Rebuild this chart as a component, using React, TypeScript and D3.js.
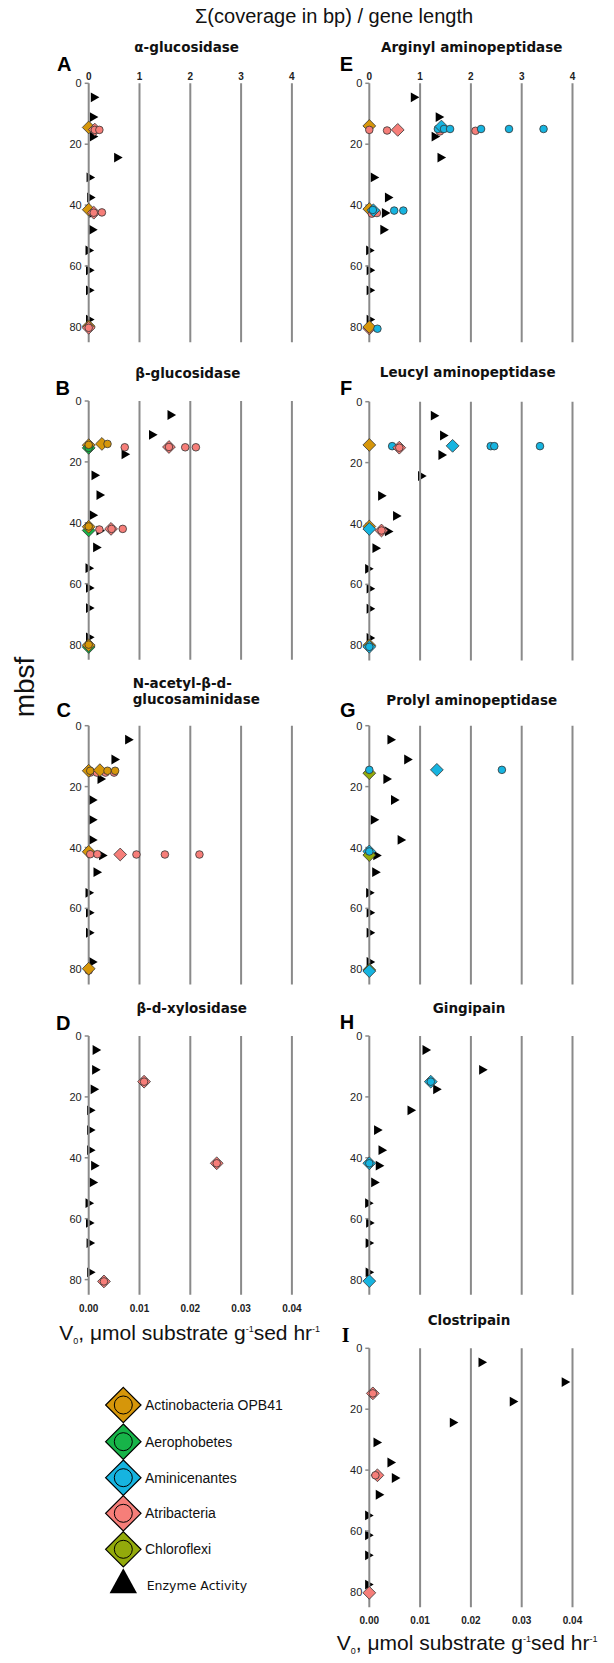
import React from 'react';
import * as d3 from 'd3';

// ---------- DATA ----------
const TAXA = ['Actinobacteria OPB41', 'Aerophobetes', 'Aminicenantes', 'Atribacteria', 'Chloroflexi'];
const TAXA_COLORS = ['#d6960a', '#17b449', '#16b4e0', '#f67e79', '#93aa0b'];
const COV_TICKS = [0, 1, 2, 3, 4];
const ACT_TICKS = [0, 0.01, 0.02, 0.03, 0.04];
const DEPTH_TICKS = [0, 20, 40, 60, 80];
const ACT_DEPTHS = [4.6, 11.1, 17.5, 24.4, 30.9, 37.5, 42.6, 48.1, 54.9, 61.4, 68, 77.6];

// enzyme activity (µmol substrate g-1 sed hr-1) at ACT_DEPTHS
const actA = [0.00124, 0.00104, 0.00104, 0.00583, 0.0004, 0.0005, 0.0009, 0.0009, 0.0002, 0.0003, 0.0003, 0.0003];
const actB = [0.01634, 0.0127, 0.0073, 0.00138, 0.00236, 0.001, 0.00236, 0.0017, 0.0002, 0.0003, 0.0003, 0.0003];
const actC = [0.008, 0.0053, 0.00256, 0.0009, 0.0009, 0.0009, 0.00287, 0.00177, 0.0002, 0.0003, 0.0003, 0.0009];
const actD = [0.0016, 0.0015, 0.0012, 0.0005, 0.0005, 0.0005, 0.0013, 0.001, 0.0002, 0.0003, 0.0004, 0.0005];
const actE = [0.009, 0.0139, 0.0131, 0.01425, 0.0011, 0.0039, 0.0033, 0.003, 0.0002, 0.0003, 0.0003, 0.0003];
const actF = [0.01293, 0.01476, 0.01444, 0.01043, 0.00256, 0.0055, 0.0039, 0.00145, 0.0, 0.0003, 0.0003, 0.0003];
const actG = [0.0044, 0.0077, 0.0036, 0.0051, 0.0011, 0.0064, 0.0016, 0.0014, 0.0002, 0.0003, 0.0003, 0.0003];
const actH = [0.0113, 0.02244, 0.0134, 0.00835, 0.00177, 0.00264, 0.0021, 0.0012, 0.0, 0.0002, 0.0001, 0.0001];
const actI = [0.02232, 0.0387, 0.02848, 0.01667, 0.00165, 0.0044, 0.00526, 0.0021, 0.0, 0.0, 0.0, 0.0];

// gene coverage points: [taxon index, shape (d = diamond, c = circle), coverage, depth mbsf]
type G = [number, string, number, number];
const genesA: G[] = [
  [0, 'd', 0, 14.5], [3, 'd', 0.12, 15.2], [3, 'c', 0.12, 15.3], [3, 'c', 0.21, 15.3],
  [0, 'd', 0, 41.5], [3, 'd', 0.1, 42.5], [3, 'c', 0.1, 42.5], [3, 'c', 0.26, 42.4],
  [0, 'd', 0, 79.8], [3, 'd', 0, 80.3], [3, 'c', 0, 80.3],
];
const genesB: G[] = [
  [0, 'd', 0, 14.5], [1, 'd', 0, 15.4], [1, 'c', 0, 15.4], [0, 'c', 0, 14.4],
  [0, 'd', 0.26, 14.1], [0, 'c', 0.37, 14.1], [3, 'c', 0.71, 15.2],
  [3, 'd', 1.58, 15.1], [3, 'c', 1.58, 15.1], [3, 'c', 1.9, 15.2], [3, 'c', 2.11, 15.2],
  [1, 'd', 0, 42.5], [0, 'd', 0, 41.3], [0, 'c', 0, 41.2], [3, 'c', 0.21, 42.2],
  [3, 'd', 0.44, 42], [3, 'c', 0.45, 42], [3, 'c', 0.67, 42],
  [1, 'd', 0, 80.8], [0, 'd', 0, 80.2], [0, 'c', 0, 80],
];
const genesC: G[] = [
  [3, 'c', 0.03, 15.4], [3, 'c', 0.16, 15.4], [3, 'c', 0.33, 15.4], [3, 'c', 0.5, 15.4],
  [0, 'd', 0, 14.8], [0, 'c', 0.03, 14.8], [0, 'd', 0.22, 14.6], [0, 'c', 0.37, 14.8], [0, 'c', 0.52, 14.8],
  [0, 'd', 0, 41.4], [3, 'c', 0.03, 42.2], [3, 'c', 0.17, 42.2], [3, 'd', 0.62, 42.3],
  [3, 'c', 0.94, 42.3], [3, 'c', 1.5, 42.3], [3, 'c', 2.18, 42.3],
  [3, 'c', 0, 80.4], [0, 'd', 0, 79.8],
];
const genesD: G[] = [
  [3, 'd', 1.09, 15], [3, 'c', 1.09, 15], [3, 'd', 2.52, 41.8], [3, 'c', 2.52, 41.8],
  [3, 'd', 0.3, 80.6], [3, 'c', 0.3, 80.6],
];
const genesE: G[] = [
  [0, 'd', 0, 14], [3, 'c', 0, 15.3], [3, 'c', 0.35, 15.5], [3, 'd', 0.56, 15.3],
  [3, 'c', 1.39, 15.8], [2, 'c', 1.35, 15], [2, 'd', 1.42, 14.2], [2, 'c', 1.47, 15], [2, 'c', 1.59, 15],
  [3, 'c', 2.09, 15.6], [2, 'c', 2.2, 15], [2, 'c', 2.75, 15], [2, 'c', 3.43, 15],
  [0, 'd', 0, 41.3], [3, 'c', 0.05, 42.8], [3, 'c', 0.15, 42.6], [2, 'd', 0.08, 41.7], [2, 'c', 0.07, 41.6],
  [2, 'c', 0.49, 41.8], [2, 'c', 0.67, 41.8],
  [3, 'd', 0, 80.5], [0, 'd', 0, 80], [2, 'c', 0.16, 80.6],
];
const genesF: G[] = [
  [0, 'd', 0, 14.2], [2, 'c', 0.45, 14.6], [3, 'd', 0.59, 15.1], [3, 'c', 0.59, 15.1],
  [2, 'd', 1.64, 14.5], [2, 'c', 2.39, 14.6], [2, 'c', 2.46, 14.6], [2, 'c', 3.36, 14.6],
  [0, 'd', 0, 41], [2, 'd', 0, 41.8], [3, 'd', 0.24, 42.3], [3, 'c', 0.24, 42.3],
  [0, 'd', 0, 80], [2, 'd', 0, 80.5], [2, 'c', 0, 80.5],
];
const genesG: G[] = [
  [4, 'd', 0, 15.6], [2, 'c', 0, 14.5], [2, 'd', 1.33, 14.5], [2, 'c', 2.61, 14.5],
  [2, 'd', 0, 41.3], [4, 'd', 0, 42.5], [2, 'c', 0, 41.3],
  [4, 'd', 0, 80.2], [2, 'd', 0, 80.6],
];
const genesH: G[] = [
  [2, 'd', 1.21, 15], [2, 'c', 1.21, 15], [2, 'd', 0, 41.8], [2, 'c', 0, 41.8], [2, 'd', 0, 80.5],
];
const genesI: G[] = [
  [3, 'd', 0.07, 14.8], [3, 'c', 0.07, 14.8], [3, 'd', 0.16, 41.7], [3, 'c', 0.12, 41.7], [3, 'd', 0, 80.3],
];

// ---------- LAYOUT ----------
const SERIF = '"Liberation Serif", serif';
const SANS = '"Liberation Sans", Arial, sans-serif';
const DEJ = '"DejaVu Sans", Verdana, sans-serif';
const GRID = '#8a8a8a';
const UNIT = 50.8;
const PX_PER_M = 3.045;

const PANELS = [
  { id: 'A', title: ['α-glucosidase'], act: actA, genes: genesA, x0: 88.7, y0: 83.3, tx: 186.7, ty: [51.7], lx: 64.3, ly: 71, top: true, bottom: false, anchor: 'middle' },
  { id: 'B', title: ['β-glucosidase'], act: actB, genes: genesB, x0: 88.7, y0: 401, tx: 187.8, ty: [377.7], lx: 62.7, ly: 395, top: false, bottom: false, anchor: 'middle' },
  { id: 'C', title: ['N-acetyl-β-d-', 'glucosaminidase'], act: actC, genes: genesC, x0: 88.7, y0: 725.7, tx: 132.7, ty: [688.3, 704.3], lx: 63.7, ly: 716.7, top: false, bottom: false, anchor: 'start' },
  { id: 'D', title: ['β-d-xylosidase'], act: actD, genes: genesD, x0: 88.7, y0: 1036, tx: 191.7, ty: [1013.3], lx: 63.3, ly: 1030, top: false, bottom: true, anchor: 'middle' },
  { id: 'E', title: ['Arginyl aminopeptidase'], act: actE, genes: genesE, x0: 369.3, y0: 83.3, tx: 471.7, ty: [51.7], lx: 346.3, ly: 71, top: true, bottom: false, anchor: 'middle' },
  { id: 'F', title: ['Leucyl aminopeptidase'], act: actF, genes: genesF, x0: 369.3, y0: 401.7, tx: 467.7, ty: [376.7], lx: 346, ly: 395, top: false, bottom: false, anchor: 'middle' },
  { id: 'G', title: ['Prolyl aminopeptidase'], act: actG, genes: genesG, x0: 369.3, y0: 725.7, tx: 471.7, ty: [705], lx: 347.8, ly: 717.3, top: false, bottom: false, anchor: 'middle' },
  { id: 'H', title: ['Gingipain'], act: actH, genes: genesH, x0: 369.3, y0: 1036, tx: 469, ty: [1013.3], lx: 347, ly: 1029.3, top: false, bottom: false, anchor: 'middle' },
  { id: 'I', title: ['Clostripain'], act: actI, genes: genesI, x0: 369.3, y0: 1348.3, tx: 469, ty: [1325], lx: 345.7, ly: 1342.3, top: false, bottom: true, anchor: 'middle' },
];

function Panel({ p }: { p: any }) {
  const xc = d3.scaleLinear().domain([0, 4]).range([p.x0, p.x0 + 4 * UNIT]);
  const xa = d3.scaleLinear().domain([0, 0.04]).range([p.x0, p.x0 + 4 * UNIT]);
  const y = d3.scaleLinear().domain([0, 85]).range([p.y0, p.y0 + 85 * PX_PER_M]);
  const tri = (cx: number, cy: number) =>
    `M${cx - 4.2},${cy - 4.9}L${cx + 4.4},${cy}L${cx - 4.2},${cy + 4.9}Z`;
  const dia = (cx: number, cy: number, r: number) =>
    `M${cx},${cy - r}L${cx + r},${cy}L${cx},${cy + r}L${cx - r},${cy}Z`;
  return (
    <g>
      <text x={p.lx} y={p.ly} textAnchor="middle" fontFamily={p.id === 'I' ? SERIF : SANS} fontWeight="bold" fontSize={20}>{p.id}</text>
      {p.title.map((t: string, i: number) => (
        <text key={i} x={p.tx} y={p.ty[i]} textAnchor={p.anchor} fontFamily={DEJ} fontWeight="bold" fontSize={13.5} fill="#111">{t}</text>
      ))}
      {/* enzyme activity triangles (below grid) */}
      {p.act.map((v: number, i: number) => (
        <path key={'t' + i} d={tri(xa(v), y(ACT_DEPTHS[i]))} fill="#000" />
      ))}
      {/* grid lines */}
      {COV_TICKS.map((t) => (
        <line key={'g' + t} x1={xc(t)} x2={xc(t)} y1={y(0)} y2={y(85)} stroke={GRID} strokeWidth={2} />
      ))}
      {DEPTH_TICKS.map((t) => (
        <g key={'d' + t}>
          <line x1={p.x0 - 4} x2={p.x0} y1={y(t)} y2={y(t)} stroke={GRID} strokeWidth={1.5} />
          <text x={p.x0 - 7} y={y(t) + 4} textAnchor="end" fontFamily={SANS} fontSize={11} fill="#222">{t}</text>
        </g>
      ))}
      {p.top && COV_TICKS.map((t) => (
        <text key={'c' + t} x={xc(t)} y={y(0) - 3.5} textAnchor="middle" fontFamily={SANS} fontWeight="bold" fontSize={10} fill="#222">{t}</text>
      ))}
      {p.bottom && ACT_TICKS.map((t) => (
        <text key={'a' + t} x={xa(t)} y={y(85) + (p.id === 'I' ? 16.5 : 17)} textAnchor="middle" fontFamily={SANS} fontWeight="bold" fontSize={10} fill="#222">{t.toFixed(2)}</text>
      ))}
      {/* gene coverage markers */}
      {p.genes.map((g: G, i: number) =>
        g[1] === 'd' ? (
          <path key={'m' + i} d={dia(xc(g[2]), y(g[3]), 6.4)} fill={TAXA_COLORS[g[0]]} stroke="#333" strokeWidth={0.8} />
        ) : (
          <circle key={'m' + i} cx={xc(g[2])} cy={y(g[3])} r={3.8} fill={TAXA_COLORS[g[0]]} stroke="#333" strokeWidth={0.8} />
        )
      )}
    </g>
  );
}

function AxisTitle({ x, y }: { x: number; y: number }) {
  return (
    <text x={x} y={y} fontFamily={SANS} fontSize={21} fill="#111">
      V<tspan fontSize={9} dy={4}>0</tspan>
      <tspan dy={-4}>, μmol substrate g</tspan>
      <tspan fontSize={9} dy={-8}>-1</tspan>
      <tspan dy={8}>sed hr</tspan>
      <tspan fontSize={9} dy={-8}>-1</tspan>
    </text>
  );
}

export default function App() {
  const legendY = [1405, 1441.7, 1477.7, 1513.3, 1549.3];
  const lx = 123.3;
  return (
    <svg width={614} height={1663} style={{ position: 'absolute', left: 0, top: 0, background: '#fff' }}>
      <text x={195} y={23} fontFamily={SANS} fontSize={20} fill="#111">Σ(coverage in bp) / gene length</text>
      <text transform="translate(34,687) rotate(-90)" textAnchor="middle" fontFamily={SANS} fontSize={28} fill="#111">mbsf</text>
      {PANELS.map((p) => <Panel key={p.id} p={p} />)}
      <AxisTitle x={59.3} y={1340} />
      <AxisTitle x={336.7} y={1650} />
      {TAXA.map((t, i) => (
        <g key={t}>
          <path d={`M${lx},${legendY[i] - 17.7}L${lx + 17.7},${legendY[i]}L${lx},${legendY[i] + 17.7}L${lx - 17.7},${legendY[i]}Z`} fill={TAXA_COLORS[i]} stroke="#000" strokeWidth={1.2} />
          <circle cx={lx} cy={legendY[i]} r={9} fill={TAXA_COLORS[i]} stroke="#000" strokeWidth={1} />
          <text x={145} y={legendY[i] + 5} fontFamily={SANS} fontSize={14} fill="#111">{t}</text>
        </g>
      ))}
      <path d={`M${lx},1568.3L${lx + 13.7},1593.3L${lx - 13.7},1593.3Z`} fill="#000" />
      <text x={146.7} y={1589.5} fontFamily={DEJ} fontSize={12.5} fill="#111">Enzyme Activity</text>
    </svg>
  );
}
